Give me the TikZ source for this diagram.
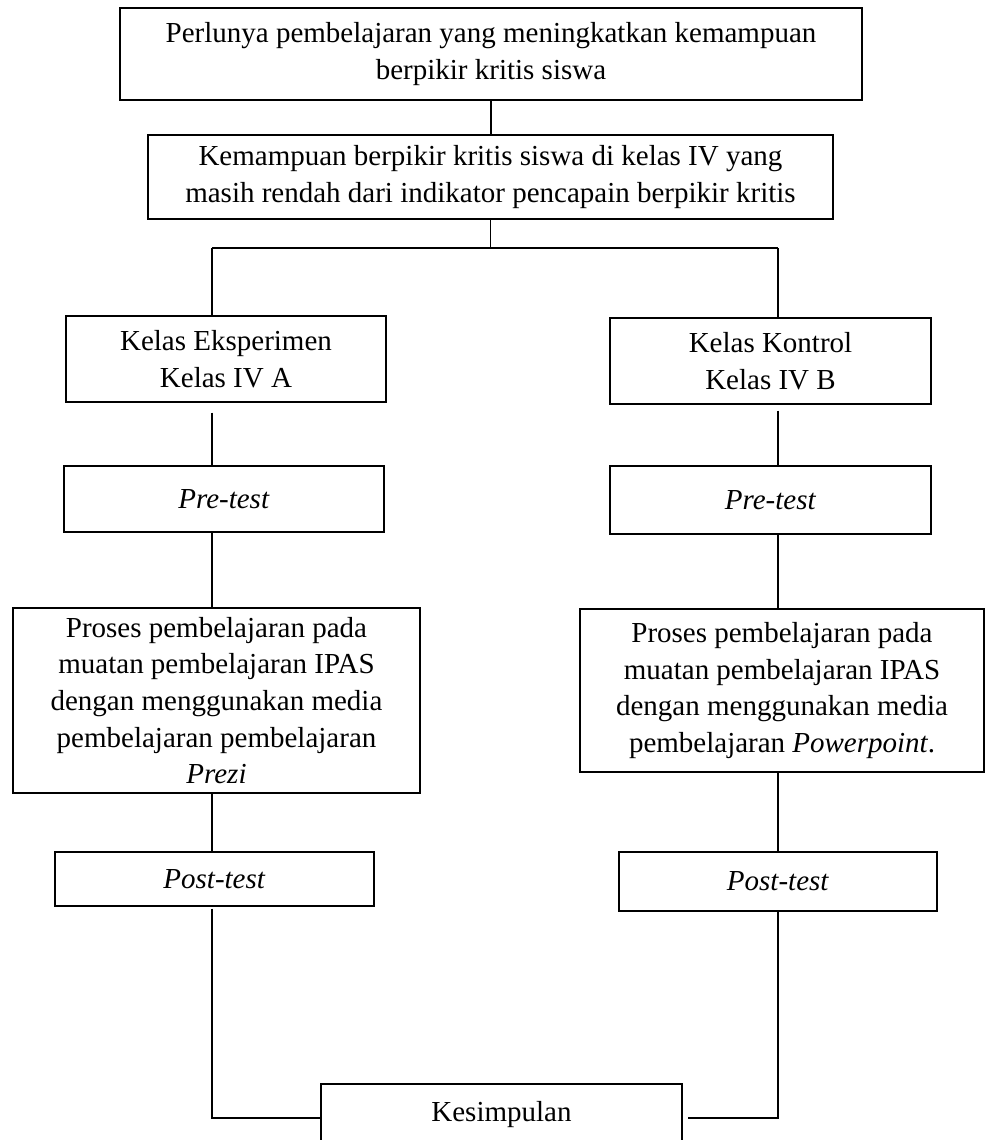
\documentclass[tikz,border=0pt]{standalone}
\usepackage{fontspec}
\setmainfont{Liberation Serif}
\usepackage{tikz}
\usetikzlibrary{calc}
\usetikzlibrary{positioning}

\begin{document}
\begin{tikzpicture}[x=0.5pt,y=-0.5pt,
    kotak/.style={draw, rectangle, align=center, inner sep=0pt,
                  line width=0.7pt, font=\fontsize{14.5}{18.3}\selectfont},
    garis/.style={line width=0.7pt}]
  \useasboundingbox (0,0) rectangle (986,1140);
  % kotak atas
  \node[kotak, minimum width=371pt, minimum height=46pt] (perlu) at (491,54)
       {Perlunya pembelajaran yang meningkatkan kemampuan\\berpikir kritis siswa};
  \node[kotak, minimum width=342.5pt, minimum height=42pt] (rendah) at (490.5,177)
       {Kemampuan berpikir kritis siswa di kelas IV yang\\masih rendah dari indikator pencapain berpikir kritis};
  % kelas eksperimen
  \node[kotak, minimum width=160pt, minimum height=43pt] (eks) at (226,359)
       {Kelas Eksperimen\\Kelas IV A};
  \node[kotak, minimum width=160pt, minimum height=33pt] (preA) at (224,499)
       {\textit{Pre-test}};
  \node[kotak, minimum width=203.5pt, minimum height=92.5pt] (prosesA) at (216.5,700.5)
       {Proses pembelajaran pada\\muatan pembelajaran IPAS\\dengan menggunakan media\\pembelajaran pembelajaran\\\textit{Prezi}};
  \node[kotak, minimum width=159.5pt, minimum height=27pt] (postA) at (214.5,879)
       {\textit{Post-test}};
  % kelas kontrol
  \node[kotak, minimum width=160.5pt, minimum height=43pt] (kon) at (770.5,361)
       {Kelas Kontrol\\Kelas IV B};
  \node[kotak, minimum width=160.5pt, minimum height=34pt] (preB) at (770.5,500)
       {\textit{Pre-test}};
  \node[kotak, minimum width=202pt, minimum height=81.5pt] (prosesB) at (782,690.5)
       {Proses pembelajaran pada\\muatan pembelajaran IPAS\\dengan menggunakan media\\pembelajaran \textit{Powerpoint}.};
  \node[kotak, minimum width=159pt, minimum height=29.5pt] (postB) at (778,881.5)
       {\textit{Post-test}};
  % kesimpulan (tepi bawah di luar gambar)
  \node[kotak, minimum width=180.5pt, minimum height=31pt] (simpul) at (501.5,1115)
       {Kesimpulan};

  \coordinate (cab) at (491,248);
  \coordinate (cabL) at (212,248);
  \coordinate (cabR) at (778,248);
  \coordinate (bawahL) at (212,1118);
  \coordinate (bawahR) at (778,1118);

  \draw[garis] (perlu.south) -- (perlu.south |- rendah.north);
  \draw[garis] (rendah.south) -- (rendah.south |- cab);
  \draw[garis] (cabL) -- (cabR);
  \draw[garis] (cabL) -- (cabL |- eks.north);
  \draw[garis] (cabR) -- (cabR |- kon.north);
  \draw[garis, shorten <=5pt] (cabL |- eks.south) -- (cabL |- preA.north);
  \draw[garis, shorten <=3pt] (cabR |- kon.south) -- (cabR |- preB.north);
  \draw[garis] (cabL |- preA.south) -- (cabL |- prosesA.north);
  \draw[garis] (cabR |- preB.south) -- (cabR |- prosesB.north);
  \draw[garis] (cabL |- prosesA.south) -- (cabL |- postA.north);
  \draw[garis] (cabR |- prosesB.south) -- (cabR |- postB.north);
  \draw[garis, shorten <=1pt] (cabL |- postA.south) -- (bawahL) -- (bawahL -| simpul.west);
  \draw[garis, shorten >=2.5pt] (cabR |- postB.south) -- (bawahR) -- (bawahR -| simpul.east);
\end{tikzpicture}
\end{document}
